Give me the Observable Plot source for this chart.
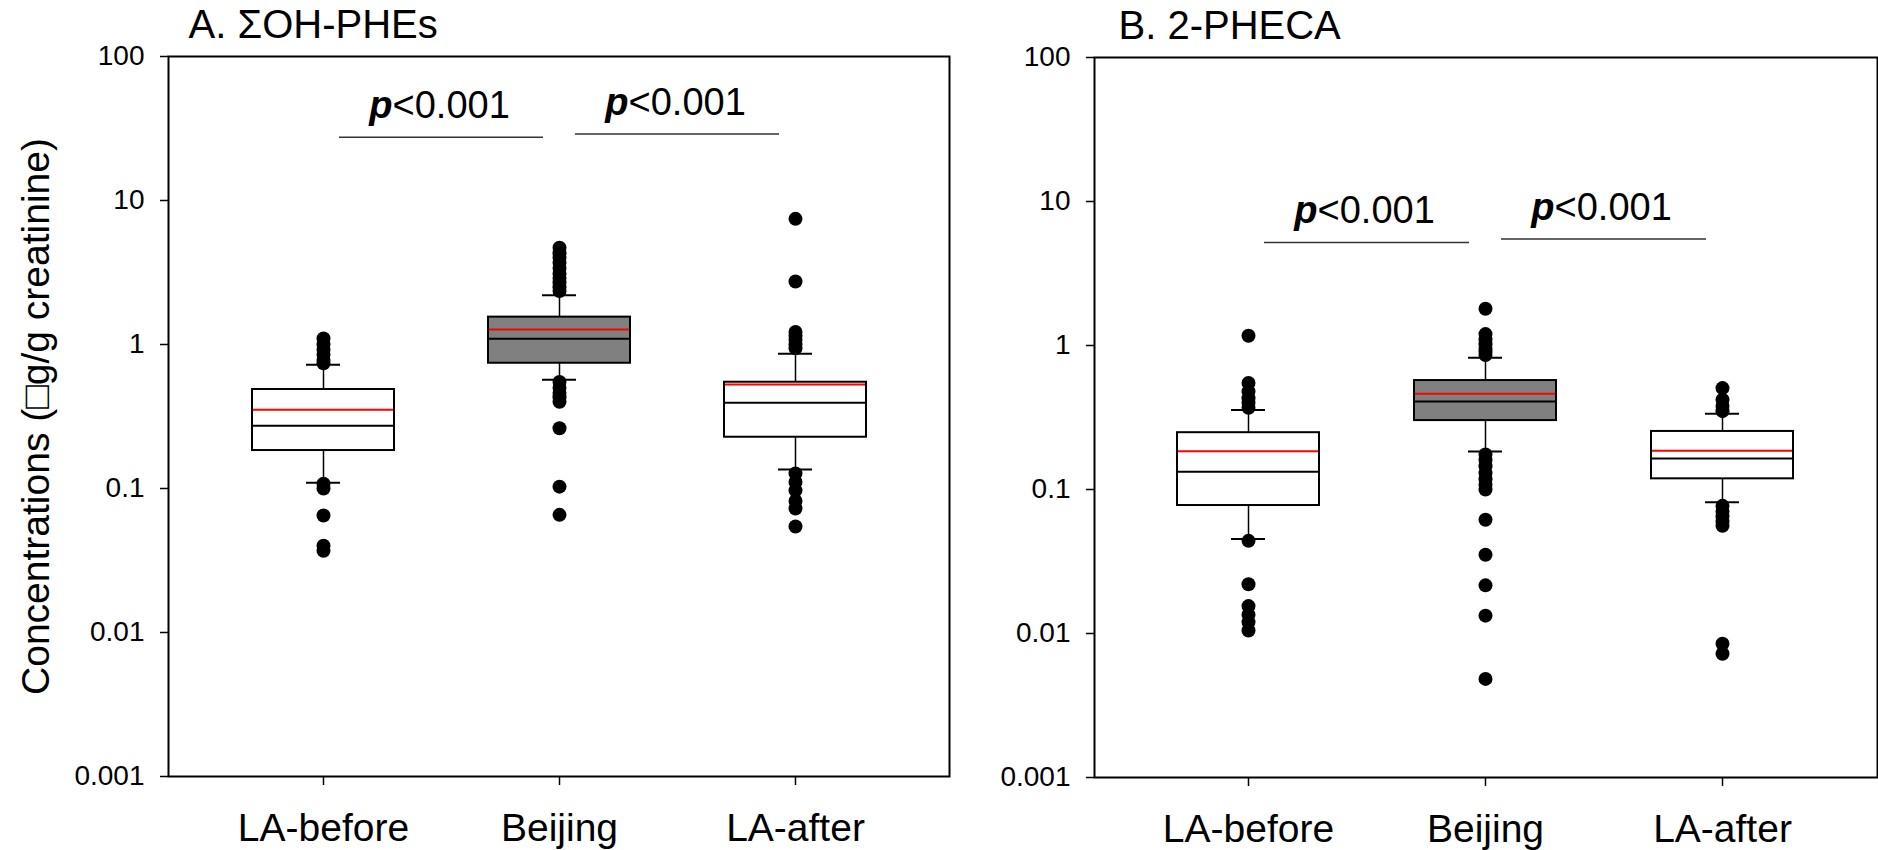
<!DOCTYPE html>
<html>
<head>
<meta charset="utf-8">
<script src="https://cdn.jsdelivr.net/npm/d3@7"></script>
<script src="https://cdn.jsdelivr.net/npm/@observablehq/plot@0.6"></script>
<style>
  html, body { margin: 0; padding: 0; background: white; }
  #wrap { position: relative; width: 1878px; height: 850px; overflow: hidden; background: white; }
  #wrap > div, #wrap > svg { position: absolute; top: 0; }
</style>
</head>
<body>
<div id="wrap"></div>
<script>
// ---------- data ----------
const groups = ["LA-before", "Beijing", "LA-after"];
const yTicks = [100, 10, 1, 0.1, 0.01, 0.001];
const yLabel = "Concentrations (\u25A1g/g creatinine)";
const titleA = "A. \u03A3OH-PHEs";
const titleB = "B. 2-PHECA";

// Panel A: ΣOH-PHEs
const aWhiskerLow  = [0.1096, 0.569, 0.1355];
const aQ1          = [0.1835, 0.741, 0.227];
const aMedian      = [0.2725, 1.096, 0.394];
const aMean        = [0.352, 1.27, 0.527];
const aQ3          = [0.487, 1.549, 0.547];
const aWhiskerHigh = [0.723, 2.2, 0.861];
const aOutliers = [
  [1.1, 1.0, 0.92, 0.85, 0.78, 0.74, 0.108, 0.1, 0.065, 0.04, 0.037],
  [4.7, 4.3, 4.0, 3.7, 3.4, 3.1, 2.9, 2.7, 2.5, 2.35, 0.55, 0.5, 0.46, 0.43, 0.4, 0.262, 0.103, 0.0656],
  [7.46, 2.74, 1.22, 1.15, 1.08, 1.0, 0.94, 0.127, 0.111, 0.097, 0.082, 0.0726, 0.0545]
];
const aSigFrom = ["LA-before", "Beijing"];
const aSigTo   = ["Beijing", "LA-after"];
const aSigY    = [27.5, 29];

// Panel B: 2-PHECA
const bWhiskerLow  = [0.0454, 0.1836, 0.0817];
const bQ1          = [0.0774, 0.301, 0.1186];
const bMedian      = [0.133, 0.408, 0.164];
const bMean        = [0.1845, 0.462, 0.186];
const bQ3          = [0.248, 0.571, 0.253];
const bWhiskerHigh = [0.357, 0.822, 0.336];
const bOutliers = [
  [1.17, 0.55, 0.48, 0.43, 0.4, 0.37, 0.044, 0.022, 0.0155, 0.0135, 0.012, 0.0105],
  [1.8, 1.2, 1.1, 1.02, 0.95, 0.9, 0.86, 0.175, 0.16, 0.145, 0.13, 0.118, 0.108, 0.1, 0.0616, 0.0352, 0.0216, 0.0133, 0.00484],
  [0.506, 0.42, 0.38, 0.35, 0.077, 0.07, 0.065, 0.06, 0.056, 0.00848, 0.00723]
];
const bSigFrom = ["LA-before", "Beijing"];
const bSigTo   = ["Beijing", "LA-after"];
const bSigY    = [5.2, 5.5];

const pLetter = "p";
const pRest = "<0.001";

// ---------- build ----------
function makeSummary(lo, q1, med, mean, q3, hi) {
  return groups.map((g, i) => ({group: g, lo: lo[i], q1: q1[i], median: med[i], mean: mean[i], q3: q3[i], hi: hi[i]}));
}
function makeOutliers(out) {
  return groups.flatMap((g, i) => out[i].map(v => ({group: g, value: v})));
}
function makeSig(from, to, y) {
  return from.map((f, i) => ({from: f, to: to[i], y: y[i]}));
}

const FONT = "'Liberation Sans', Arial, Helvetica, sans-serif";

function panel({summary, outliers, sig, title, width, marginLeft, marginRight, marginTop, marginBottom, showYLabel, titleDx}) {
  const marks = [
    Plot.ruleX(summary, {x: "group", y1: "q3", y2: "hi", stroke: "black", strokeWidth: 1.5}),
    Plot.ruleX(summary, {x: "group", y1: "lo", y2: "q1", stroke: "black", strokeWidth: 1.5}),
    Plot.tickY(summary, {x: "group", y: "hi", insetLeft: 54, insetRight: 54, stroke: "black", strokeWidth: 2}),
    Plot.tickY(summary, {x: "group", y: "lo", insetLeft: 54, insetRight: 54, stroke: "black", strokeWidth: 2}),
    Plot.barY(summary, {x: "group", y1: "q1", y2: "q3", fill: d => d.group === "Beijing" ? "#808080" : "white", stroke: "black", strokeWidth: 2}),
    Plot.tickY(summary, {x: "group", y: "median", stroke: "black", strokeWidth: 2, insetLeft: 1, insetRight: 1}),
    Plot.tickY(summary, {x: "group", y: "mean", stroke: "red", strokeWidth: 2, insetLeft: 1, insetRight: 1}),
    Plot.dot(outliers, {x: "group", y: "value", r: 7, fill: "black", stroke: "none"}),
    Plot.ruleY(sig, {x1: "from", x2: "to", y: "y", insetLeft: 87, insetRight: 87, stroke: "#333", strokeWidth: 1.5}),
    Plot.text(sig, {x: "from", y: "y", text: () => pLetter, dx: 69, dy: -19, lineAnchor: "bottom", textAnchor: "end", fontSize: 38, fontWeight: "bold", fontStyle: "italic", fill: "black"}),
    Plot.text(sig, {x: "from", y: "y", text: () => pRest, dx: 69, dy: -19, lineAnchor: "bottom", textAnchor: "start", fontSize: 38, fill: "black"}),
    Plot.frame({stroke: "black", strokeWidth: 2}),
    Plot.axisY({ticks: yTicks, tickFormat: d => String(d), tickSize: 8, tickPadding: 16, fontSize: 28, label: null, strokeWidth: 1.5}),
    Plot.axisX({tickSize: 9, tickPadding: 28, fontSize: 39, label: null, strokeWidth: 1.5}),
    Plot.text([title], {frameAnchor: "top-left", dx: titleDx, dy: -19, lineAnchor: "bottom", textAnchor: "start", fontSize: 40, fill: "black"})
  ];
  if (showYLabel) {
    marks.push(Plot.text([yLabel], {frameAnchor: "left", rotate: -90, dx: -132, textAnchor: "middle", lineAnchor: "middle", fontSize: 39, fill: "black"}));
  }
  return Plot.plot({
    width, height: 850,
    marginLeft, marginRight, marginTop, marginBottom,
    style: {fontFamily: FONT, background: "white", color: "black", overflow: "visible"},
    x: {type: "band", domain: groups, paddingInner: 0.4, paddingOuter: 0.348},
    y: {type: "log", domain: [0.001, 100]},
    marks
  });
}

const wrap = document.getElementById("wrap");

const plotA = panel({
  summary: makeSummary(aWhiskerLow, aQ1, aMedian, aMean, aQ3, aWhiskerHigh),
  outliers: makeOutliers(aOutliers),
  sig: makeSig(aSigFrom, aSigTo, aSigY),
  title: titleA,
  width: 960, marginLeft: 168, marginRight: 11, marginTop: 56, marginBottom: 74,
  showYLabel: true, titleDx: 20
});
plotA.style.left = "0px";
wrap.appendChild(plotA);

const plotB = panel({
  summary: makeSummary(bWhiskerLow, bQ1, bMedian, bMean, bQ3, bWhiskerHigh),
  outliers: makeOutliers(bOutliers),
  sig: makeSig(bSigFrom, bSigTo, bSigY),
  title: titleB,
  width: 918, marginLeft: 134, marginRight: 1, marginTop: 57, marginBottom: 73,
  showYLabel: false, titleDx: 24
});
plotB.style.left = "960px";
wrap.appendChild(plotB);
</script>
</body>
</html>
